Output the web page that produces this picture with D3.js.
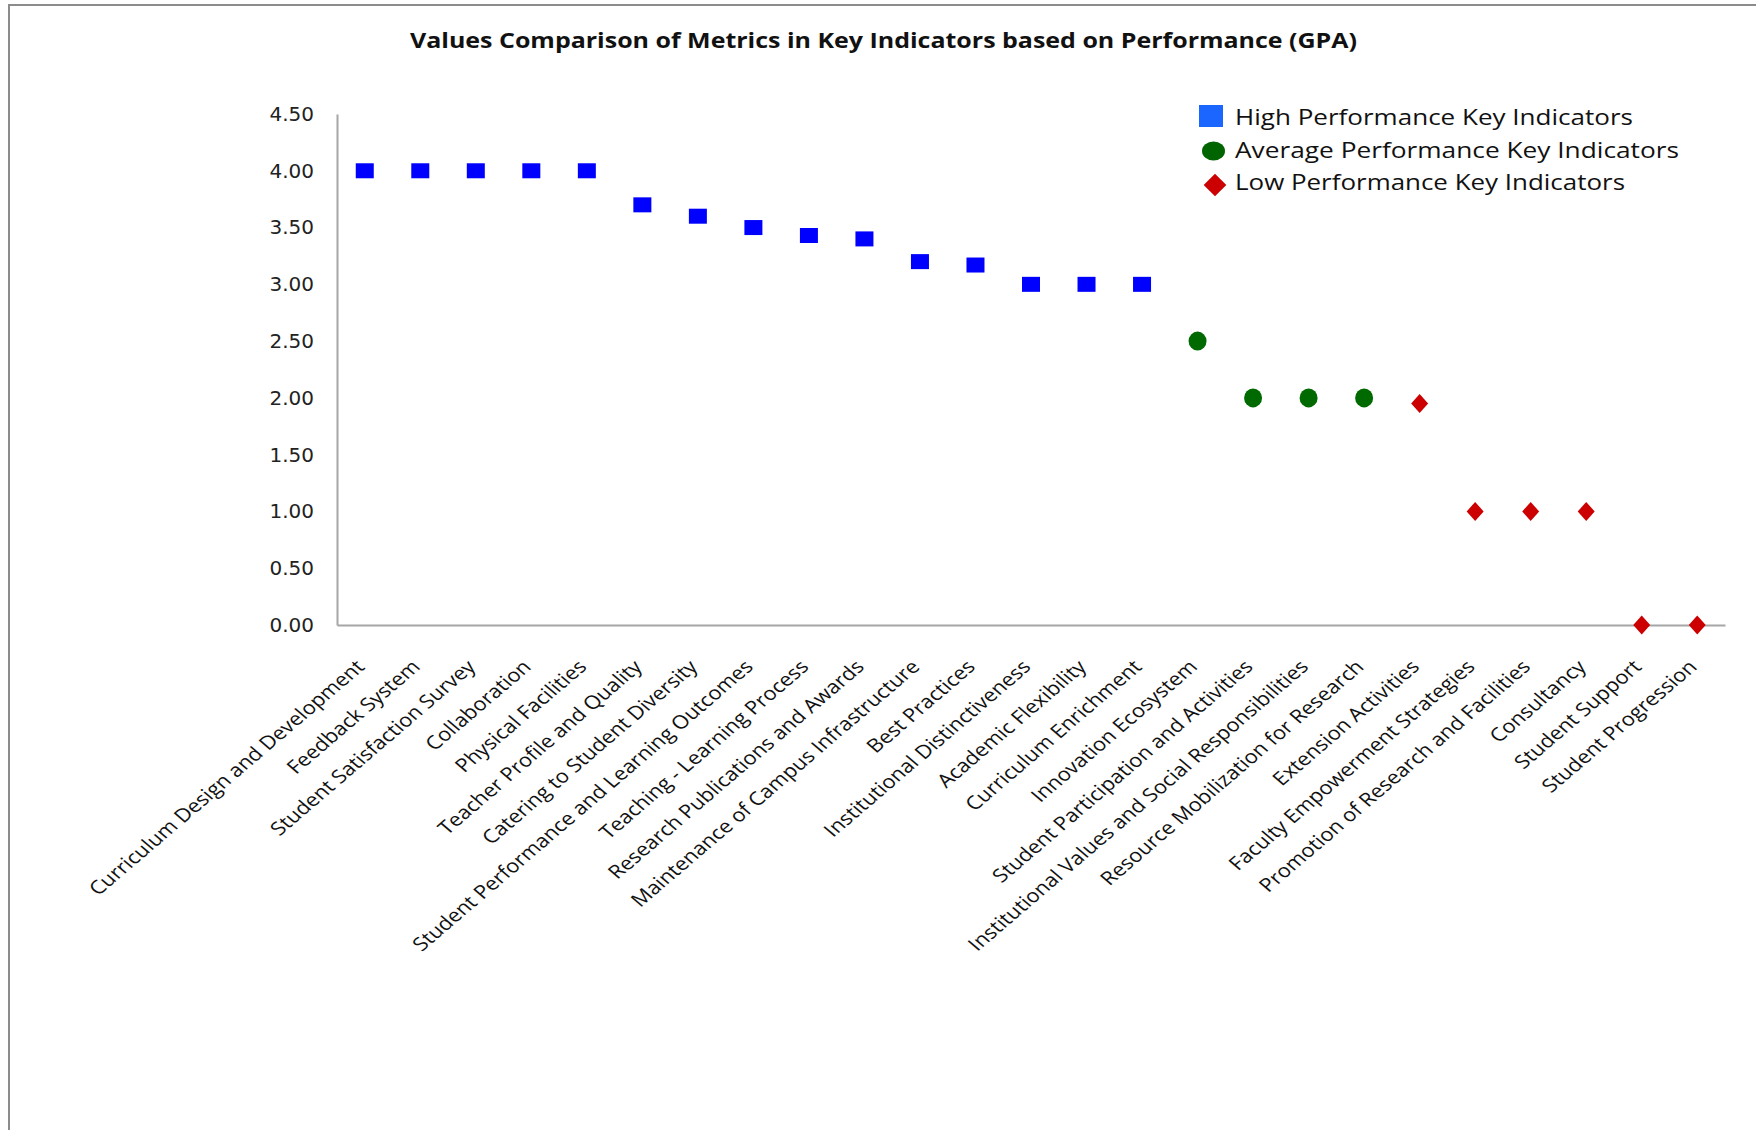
<!DOCTYPE html>
<html>
<head>
<meta charset="utf-8">
<script src="https://cdn.jsdelivr.net/npm/d3@7"></script>
<style>
  body { margin: 0; background: #fff; }
  .axis-y text { font-family: "DejaVu Sans", Verdana, sans-serif; font-size: 20px; fill: #222; }
  .axis-x text { font-family: "Open Sans", sans-serif; font-size: 18.8px; fill: #111; }
  .axis-y path, .axis-x path { stroke: #a6a6a6; stroke-width: 2; }
  .chart-title { font-family: "Open Sans", sans-serif; font-weight: bold; font-size: 21px; fill: #111; }
  .legend-label { font-family: "Open Sans", sans-serif; font-size: 21px; fill: #111; }
</style>
</head>
<body>
<div id="viz_container"></div>
<script>
// categories in the order they appear on the x axis
const categories = [
  "Curriculum Design and Development",
  "Feedback System",
  "Student Satisfaction Survey",
  "Collaboration",
  "Physical Facilities",
  "Teacher Profile and Quality",
  "Catering to Student Diversity",
  "Student Performance and Learning Outcomes",
  "Teaching - Learning Process",
  "Research Publications and Awards",
  "Maintenance of Campus Infrastructure",
  "Best Practices",
  "Institutional Distinctiveness",
  "Academic Flexibility",
  "Curriculum Enrichment",
  "Innovation Ecosystem",
  "Student Participation and Activities",
  "Institutional Values and Social Responsibilities",
  "Resource Mobilization for Research",
  "Extension Activities",
  "Faculty Empowerment Strategies",
  "Promotion of Research and Facilities",
  "Consultancy",
  "Student Support",
  "Student Progression"
];

// GPA values of each group (in category order)
const highValues = [4.00, 4.00, 4.00, 4.00, 4.00, 3.70, 3.60, 3.50, 3.43, 3.40, 3.20, 3.17, 3.00, 3.00, 3.00];
const averageValues = [2.50, 2.00, 2.00, 2.00];
const lowValues = [1.95, 1.00, 1.00, 1.00, 0.00, 0.00];

const seriesNames = ["High Performance Key Indicators", "Average Performance Key Indicators", "Low Performance Key Indicators"];
const yTicks = [0, 0.5, 1, 1.5, 2, 2.5, 3, 3.5, 4, 4.5];

const width = 1756;
const height = 1130;

const svg = d3.select("#viz_container")
  .append("svg")
    .attr("width", width)
    .attr("height", height)
    .style("display", "block");

// outer frame (only top and left edges are visible)
svg.append("path")
    .attr("d", "M9,1130V5H1756")
    .attr("fill", "none")
    .attr("stroke", "#8c8c8c")
    .attr("stroke-width", 2);

// scales
const xScale = d3.scaleBand()
  .domain(categories)
  .range([337, 1725]);

const yScale = d3.scaleLinear()
  .domain([0, 4.5])
  .range([625, 114]);

// y axis
svg.append("g")
    .attr("class", "axis-y")
    .attr("transform", "translate(337,0)")
  .call(d3.axisLeft(yScale)
    .tickValues(yTicks)
    .tickFormat(d3.format(".2f"))
    .tickSize(0)
    .tickPadding(23));

// x axis with slanted labels
svg.append("g")
    .attr("class", "axis-x")
    .attr("transform", "translate(0,625)")
  .call(d3.axisBottom(xScale).tickSize(0))
  .selectAll("text")
    .attr("x", 0)
    .attr("y", 0)
    .attr("dy", 0)
    .attr("text-anchor", "end")
    .attr("transform", "translate(1,43) scale(1.17,1) rotate(-45)");

// split the data into the three groups
const highData = highValues.map((v, i) => ({cat: categories[i], value: v}));
const averageData = averageValues.map((v, i) => ({cat: categories[highValues.length + i], value: v}));
const lowData = lowValues.map((v, i) => ({cat: categories[highValues.length + averageValues.length + i], value: v}));
const cx = d => xScale(d.cat) + xScale.bandwidth() / 2;

// high: blue squares
svg.append("g")
  .selectAll("rect")
    .data(highData)
  .join("rect")
    .attr("x", d => cx(d) - 9)
    .attr("y", d => yScale(d.value) - 7.5)
    .attr("width", 18)
    .attr("height", 15)
    .style("fill", "#0000ff");

// average: green dots
svg.append("g")
  .selectAll("ellipse")
    .data(averageData)
  .join("ellipse")
    .attr("cx", cx)
    .attr("cy", d => yScale(d.value))
    .attr("rx", 9)
    .attr("ry", 9.5)
    .style("fill", "#006a00");

// low: red diamonds
const diamond = d3.symbol(d3.symbolSquare, 144);
svg.append("g")
  .selectAll("path")
    .data(lowData)
  .join("path")
    .attr("d", diamond)
    .attr("transform", d => `translate(${cx(d)},${yScale(d.value)}) scale(1,1.12) rotate(45)`)
    .style("fill", "#cc0000");

// title
svg.append("text")
    .attr("class", "chart-title")
    .attr("x", 410)
    .attr("y", 48)
    .attr("textLength", 947)
    .attr("lengthAdjust", "spacingAndGlyphs")
  .text("Values Comparison of Metrics in Key Indicators based on Performance (GPA)");

// legend
const legend = svg.append("g").attr("transform", "translate(1212,0)");
legend.append("rect")
    .attr("x", -13).attr("y", 105)
    .attr("width", 24).attr("height", 22)
    .style("fill", "#1a66ff");
legend.append("ellipse")
    .attr("cx", 1.5).attr("cy", 151)
    .attr("rx", 11.5).attr("ry", 9.5)
    .style("fill", "#006400");
legend.append("path")
    .attr("d", d3.symbol(d3.symbolSquare, 256))
    .attr("transform", "translate(3,185) rotate(45)")
    .style("fill", "#cc0000");

const legendWidths = [398, 444, 390];
legend.selectAll("text.legend-label")
    .data(seriesNames)
  .join("text")
    .attr("class", "legend-label")
    .attr("x", 23)
    .attr("y", (d, i) => 125 + i * 32.5)
    .attr("textLength", (d, i) => legendWidths[i])
    .attr("lengthAdjust", "spacingAndGlyphs")
  .text(d => d);
</script>
</body>
</html>
